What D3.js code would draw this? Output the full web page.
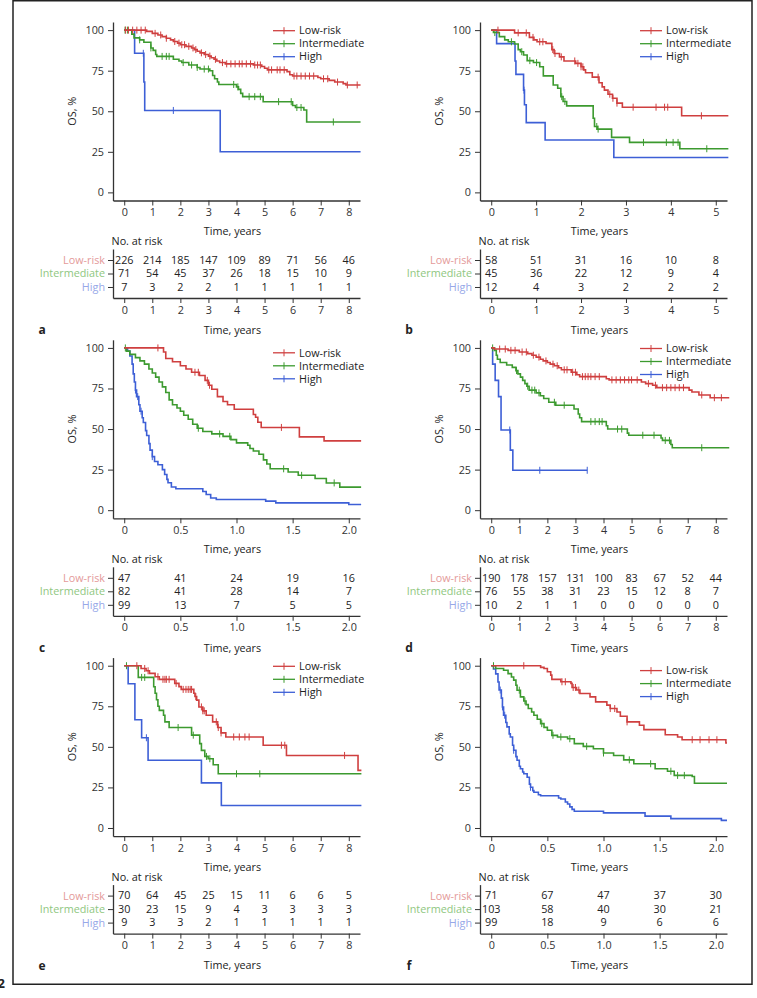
<!DOCTYPE html>
<html><head><meta charset="utf-8">
<script src="https://cdn.jsdelivr.net/npm/d3@7"></script>
<style>
body{margin:0;background:#fff;}
svg text{font-family:"Open Sans",sans-serif;}
</style></head><body>
<svg id="chart" width="757" height="998"></svg>
<script>
// ---------------- DATA ----------------
const groups = ["Low-risk", "Intermediate", "High"];
const yTicks = [0, 25, 50, 75, 100];
const ticks8 = [0, 1, 2, 3, 4, 5, 6, 7, 8];
const ticks8Labels = ["0", "1", "2", "3", "4", "5", "6", "7", "8"];
const ticks5 = [0, 1, 2, 3, 4, 5];
const ticks5Labels = ["0", "1", "2", "3", "4", "5"];
const ticks2 = [0, 0.5, 1, 1.5, 2];
const ticks2Labels = ["0", "0.5", "1.0", "1.5", "2.0"];

// Panel a
const aLowSteps = [[0,100],[0.8,99.2],[1.0,98],[1.2,97],[1.35,96],[1.5,95],[1.65,94],[1.75,93],[1.9,92],[2.0,91],[2.2,90],[2.4,89],[2.5,88],[2.6,87],[2.7,86],[2.85,85],[3.0,84],[3.1,83],[3.2,82],[3.3,81],[3.4,80],[3.6,79.2],[4.6,78.5],[4.9,77.6],[5.0,76.5],[5.1,75.5],[5.8,74.4],[5.9,72.5],[6.0,71.7],[6.9,70.8],[7.0,70],[7.3,69],[7.5,68],[7.8,67],[7.9,66.2]];
const aLowCens = [0.05,0.15,0.3,0.45,0.6,0.75,1.1,1.3,1.5,1.8,1.95,2.05,2.15,2.3,2.45,2.55,2.75,2.9,3.05,3.25,3.5,3.65,3.8,3.95,4.1,4.2,4.35,4.5,4.65,4.75,4.85,5.15,5.25,5.45,5.55,5.7,6.05,6.15,6.3,6.45,6.6,6.75,7.1,7.25,7.6,7.95,8.3];
const aIntSteps = [[0,100],[0.27,97.5],[0.35,95.2],[0.55,94],[0.7,92.5],[0.95,89],[1.03,87.5],[1.12,85],[1.16,83.8],[1.75,82],[1.95,81],[2.05,80],[2.3,78.5],[2.6,77],[2.7,76],[3.05,75],[3.15,72],[3.22,70],[3.32,68],[3.37,66.5],[4.0,65],[4.07,63.5],[4.15,61],[4.22,59],[4.95,55.9],[6.0,53.5],[6.1,52.3],[6.4,50.8],[6.5,43.4]];
const aIntCens = [0.03,0.12,0.55,0.95,1.35,1.5,1.6,2.1,2.4,2.6,2.85,3.0,3.9,4.05,4.45,4.65,4.85,5.5,5.95,6.15,6.3,7.45];
const aHighSteps = [[0,100],[0.37,85.7],[0.7,68],[0.73,50.5],[3.42,25]];
const aHighCens = [0.68, 1.75];
const aEnds = [8.42, 8.42, 8.42];
const aRiskLow = [226,214,185,147,109,89,71,56,46];
const aRiskInt = [71,54,45,37,26,18,15,10,9];
const aRiskHigh = [7,3,2,2,1,1,1,1,1];

// Panel b
const bLowSteps = [[0,100],[0.52,98.3],[0.85,95.5],[0.95,94],[1.02,92.8],[1.22,91.8],[1.35,88],[1.4,85.6],[1.52,83.5],[1.62,81],[1.88,79.5],[2.0,77.4],[2.06,75.5],[2.1,73.7],[2.25,71],[2.4,67.6],[2.47,65],[2.52,63],[2.6,60.5],[2.7,58],[2.8,55],[2.92,52.5],[4.24,47.2]];
const bLowCens = [0.15,0.6,0.78,0.93,1.08,1.15,1.37,1.42,1.56,1.86,1.93,2.0,2.04,2.38,2.64,2.71,2.8,3.16,3.67,3.86,3.93,4.68];
const bIntSteps = [[0,100],[0.05,98.5],[0.18,96],[0.3,94],[0.38,92.8],[0.52,91.4],[0.6,88],[0.65,86.7],[0.72,84.7],[0.8,81.2],[0.94,80],[1.08,77.4],[1.16,71.8],[1.38,66.2],[1.48,64.2],[1.55,59],[1.6,56],[1.68,53.3],[2.27,45.7],[2.3,40.6],[2.36,39],[2.68,33.9],[3.08,30.8],[4.2,26.9]];
const bIntCens = [0.08,0.45,0.68,0.86,1.01,1.57,1.64,2.35,2.38,3.39,3.9,4.05,4.16,4.8];
const bHighSteps = [[0,100],[0.12,91.7],[0.53,81],[0.55,72.7],[0.72,63],[0.74,54],[0.78,43],[1.2,32.3],[2.73,21.5]];
const bHighCens = [0.73];
const bEnds = [5.28, 5.28, 5.28];
const bRiskLow = [58,51,31,16,10,8];
const bRiskInt = [45,36,22,12,9,4];
const bRiskHigh = [12,4,3,2,2,2];

// Panel c
const cLowSteps = [[0,100],[0.35,97.5],[0.37,93.5],[0.43,91.5],[0.5,89],[0.55,87],[0.6,85],[0.67,83],[0.72,80],[0.75,77],[0.78,74.5],[0.83,70],[0.88,67],[0.92,65],[0.98,62.2],[1.15,59],[1.17,57.3],[1.19,54.2],[1.22,51],[1.56,45.2],[1.78,42.7]];
const cLowCens = [0.3,0.63,0.66,0.74,0.76,1.4];
const cIntSteps = [[0,100],[0.02,98],[0.05,96],[0.1,94],[0.14,92],[0.18,90],[0.22,87],[0.25,84.5],[0.28,82],[0.31,79],[0.34,76],[0.37,72.5],[0.4,68],[0.43,65],[0.47,63],[0.5,61],[0.53,58.5],[0.57,56],[0.61,53],[0.65,50.5],[0.7,48.5],[0.78,47],[0.88,45.5],[0.95,43.5],[1.0,41.5],[1.1,40],[1.12,38],[1.15,36.5],[1.2,34.5],[1.24,31],[1.27,28.5],[1.3,25.5],[1.46,23.5],[1.55,21.5],[1.7,19.5],[1.8,16.8],[1.92,14.2]];
const cIntCens = [0.01,0.66,0.85,0.94,1.42,1.58,1.87];
const cHighSteps = [[0,100],[0.03,98],[0.05,95],[0.07,90],[0.08,84],[0.09,79],[0.1,74],[0.11,70],[0.13,65],[0.14,61],[0.16,57],[0.17,54],[0.19,49],[0.2,46],[0.22,41],[0.23,37],[0.25,33],[0.27,30],[0.3,28],[0.34,25],[0.36,22],[0.38,19],[0.39,16.9],[0.42,14.3],[0.46,13.2],[0.7,11.5],[0.73,9.7],[0.77,7.5],[0.82,6.6],[1.26,5.6],[1.35,4.5],[2.0,3.5]];
const cHighCens = [0.1,0.12,0.15,0.25];
const cEnds = [2.11, 2.11, 2.11];
const cRiskLow = [47,41,24,19,16];
const cRiskInt = [82,41,28,14,7];
const cRiskHigh = [99,13,7,5,5];

// Panel d
const dLowSteps = [[0,100],[0.1,99.3],[0.6,98.5],[1.0,97.5],[1.3,96.5],[1.45,95.5],[1.6,94.3],[1.75,93],[1.85,92],[2.0,91],[2.1,90],[2.25,89],[2.4,87.8],[2.5,86.5],[2.85,85],[3.05,83.5],[3.15,82.3],[4.1,81],[4.2,80.3],[5.35,79],[5.5,78],[5.75,77],[5.9,75.5],[7.05,74],[7.15,72.8],[7.4,71],[7.8,69.3]];
const dLowCens = [0.3,0.5,0.7,0.85,1.1,1.25,1.5,1.7,1.95,2.2,2.35,2.6,2.7,2.9,3.0,3.25,3.35,3.45,3.55,3.7,3.85,4.3,4.45,4.6,4.75,4.9,5.0,5.2,5.6,5.85,6.1,6.25,6.4,6.55,6.7,6.85,7.5,7.95,8.2];
const dIntSteps = [[0,100],[0.12,98.5],[0.18,95.5],[0.22,93],[0.32,91],[0.55,89.5],[0.75,88],[0.88,86],[0.95,84],[1.04,82],[1.12,80],[1.2,78],[1.27,76.4],[1.35,74],[1.6,72.3],[1.75,70.5],[1.87,68.8],[2.05,66.5],[2.3,64.7],[2.95,62.4],[3.1,59.3],[3.15,57],[3.22,54.6],[4.1,52],[4.15,50],[4.85,47.5],[4.9,46.2],[6.05,44.5],[6.1,43],[6.4,40.5],[6.45,38.5]];
const dIntCens = [0.05,0.9,1.3,1.45,1.55,1.7,2.25,2.6,3.55,3.7,3.85,3.95,4.5,4.65,5.4,5.8,6.2,6.35,7.5];
const dHighSteps = [[0,100],[0.05,90],[0.14,80],[0.26,70],[0.35,49.4],[0.68,37],[0.77,24.6]];
const dHighCens = [0.66, 1.73, 3.42];
const dEnds = [8.48, 8.48, 3.42];
const dRiskLow = [190,178,157,131,100,83,67,52,44];
const dRiskInt = [76,55,38,31,23,15,12,8,7];
const dRiskHigh = [10,2,1,1,0,0,0,0,0];

// Panel e
const eLowSteps = [[0,100],[0.6,98.3],[0.78,96.9],[0.9,95.3],[1.1,93.2],[1.25,91.6],[1.8,89.1],[1.95,87.1],[2.03,85.4],[2.48,83],[2.52,81],[2.58,78.8],[2.66,74.6],[2.8,72.2],[2.92,69.5],[3.15,65.4],[3.33,61.9],[3.45,58.6],[3.62,56.1],[4.95,51],[5.78,44.7],[8.33,35.5]];
const eLowCens = [0.45,0.73,0.85,1.2,1.38,1.45,1.5,1.6,1.85,2.1,2.2,2.28,2.35,2.4,2.55,2.75,2.8,2.85,3.28,3.35,3.45,3.9,4.1,4.3,4.45,5.6,5.72,7.85];
const eIntSteps = [[0,100],[0.5,92.8],[1.05,87],[1.1,83],[1.15,79],[1.2,75],[1.25,72.5],[1.4,69.5],[1.45,65.4],[1.6,61.9],[2.4,57.2],[2.69,52],[2.75,47.8],[2.87,44.1],[2.99,42.7],[3.17,39],[3.35,33.4]];
const eIntCens = [0.08,0.62,0.73,1.92,2.46,2.93,3.05,4.0,4.83];
const eHighSteps = [[0,100],[0.14,88.9],[0.38,66.7],[0.62,55.6],[0.85,41.7],[2.75,27.8],[3.46,13.9]];
const eHighCens = [0.79];
const eEnds = [8.45, 8.45, 8.45];
const eRiskLow = [70,64,45,25,15,11,6,6,5];
const eRiskInt = [30,23,15,9,4,3,3,3,3];
const eRiskHigh = [9,3,3,2,1,1,1,1,1];

// Panel f
const fLowSteps = [[0,100],[0.44,99],[0.47,98.3],[0.5,96.3],[0.53,94.2],[0.54,91.6],[0.62,90.1],[0.71,89.1],[0.72,86.6],[0.76,85],[0.79,82.9],[0.88,80.8],[0.93,77.7],[1.03,75.7],[1.06,73.6],[1.12,71.5],[1.15,68.9],[1.21,65.4],[1.32,63.3],[1.36,60.6],[1.55,57.5],[1.66,56.1],[1.7,54.4],[2.09,52.4]];
const fLowCens = [0.29,0.63,0.66,0.73,0.75,0.78,1.06,1.1,1.21,1.79,1.86,1.94,2.01];
const fIntSteps = [[0,100],[0.04,98.3],[0.11,97.2],[0.15,95.1],[0.18,93],[0.2,91.1],[0.22,88],[0.23,84.9],[0.26,80.8],[0.29,78.3],[0.31,76],[0.33,73.6],[0.36,71.5],[0.38,69.5],[0.41,67],[0.44,64.3],[0.47,62],[0.5,60.2],[0.54,57.1],[0.59,56.1],[0.68,55],[0.74,52],[0.82,50.3],[0.91,48.8],[1.0,46.2],[1.09,44.7],[1.18,42],[1.27,39.6],[1.46,36.5],[1.57,35],[1.63,32.4],[1.79,31.7],[1.81,27.6]];
const fIntCens = [0.02,0.25,0.3,0.45,0.55,0.62,0.7,0.85,1.0,1.23,1.42,1.6,1.66,1.72];
const fHighSteps = [[0,100],[0.02,98],[0.04,95],[0.06,90],[0.07,85],[0.09,80],[0.1,74.6],[0.11,69.5],[0.13,65],[0.14,62.3],[0.16,58],[0.17,56.1],[0.19,51],[0.2,47.9],[0.22,44],[0.23,41.7],[0.25,38],[0.26,36.5],[0.28,34.5],[0.29,33.4],[0.32,31.3],[0.34,27],[0.35,25.1],[0.37,23],[0.38,22],[0.42,20.5],[0.44,19.9],[0.6,18.5],[0.62,17.9],[0.66,16],[0.68,14.8],[0.7,13],[0.72,11.5],[0.74,10.3],[1.0,9.3],[1.37,7.3],[1.6,5.8],[2.05,4.7]];
const fHighCens = [0.08,0.1,0.12,0.2,0.35];
const fEnds = [2.1, 2.1, 2.1];
const fRiskLow = [71,67,47,37,30];
const fRiskInt = [103,58,40,30,21];
const fRiskHigh = [99,18,9,6,6];

// ---------------- STYLE / LAYOUT ----------------
const lineColors = ["#cf3f3f", "#3c9a2f", "#3d5fd6"];
const labelColors = ["#e49a9a", "#8fc77f", "#97a8e8"];
const textColor = "#222";
const FS = 10.8;
const colRanges = [[113, 360], [480, 727]];
const rowStep = 317.8;

const panels = [
  {id:"a", col:0, row:0, xd:[-0.4,8.4], ticks:ticks8, tl:ticks8Labels, steps:[aLowSteps,aIntSteps,aHighSteps], cens:[aLowCens,aIntCens,aHighCens], ends:aEnds, risk:[aRiskLow,aRiskInt,aRiskHigh], ldy:0},
  {id:"b", col:1, row:0, xd:[-0.25,5.25], ticks:ticks5, tl:ticks5Labels, steps:[bLowSteps,bIntSteps,bHighSteps], cens:[bLowCens,bIntCens,bHighCens], ends:bEnds, risk:[bRiskLow,bRiskInt,bRiskHigh], ldy:0},
  {id:"c", col:0, row:1, xd:[-0.1,2.1], ticks:ticks2, tl:ticks2Labels, steps:[cLowSteps,cIntSteps,cHighSteps], cens:[cLowCens,cIntCens,cHighCens], ends:cEnds, risk:[cRiskLow,cRiskInt,cRiskHigh], ldy:4.3},
  {id:"d", col:1, row:1, xd:[-0.4,8.4], ticks:ticks8, tl:ticks8Labels, steps:[dLowSteps,dIntSteps,dHighSteps], cens:[dLowCens,dIntCens,dHighCens], ends:dEnds, risk:[dRiskLow,dRiskInt,dRiskHigh], ldy:0},
  {id:"e", col:0, row:2, xd:[-0.4,8.4], ticks:ticks8, tl:ticks8Labels, steps:[eLowSteps,eIntSteps,eHighSteps], cens:[eLowCens,eIntCens,eHighCens], ends:eEnds, risk:[eRiskLow,eRiskInt,eRiskHigh], ldy:0},
  {id:"f", col:1, row:2, xd:[-0.1,2.1], ticks:ticks2, tl:ticks2Labels, steps:[fLowSteps,fIntSteps,fHighSteps], cens:[fLowCens,fIntCens,fHighCens], ends:fEnds, risk:[fRiskLow,fRiskInt,fRiskHigh], ldy:4.3}
];

const svg = d3.select("#chart");

// frame
svg.append("path").attr("d", "M13,0.75H752V984.3H13Z").attr("fill","none").attr("stroke","#222").attr("stroke-width",1.5);
svg.append("text").attr("x",5).attr("y",988).attr("text-anchor","end")
  .attr("font-size",13).attr("font-weight","bold").style("fill",textColor).text("2");

function survAt(steps, t) {
  let s = steps[0][1];
  for (const p of steps) { if (p[0] <= t) s = p[1]; else break; }
  return s;
}

function styleAxis(g) {
  g.selectAll("path.domain").attr("stroke","#333").attr("stroke-width",1.3);
  g.selectAll(".tick line").attr("stroke","#333").attr("stroke-width",1);
  g.selectAll(".tick text").attr("font-size",FS).style("font-family","'Open Sans',sans-serif").style("fill","#333");
}

function label(g, xx, yy, txt, anchor, size, weight) {
  return g.append("text").attr("x",xx).attr("y",yy).attr("dy","0.35em")
    .attr("text-anchor",anchor).attr("font-size",size).attr("font-weight",weight || "normal")
    .style("fill",textColor).text(txt);
}

panels.forEach(p => {
  const dy = p.row * rowStep;
  const xr = colRanges[p.col];
  const x = d3.scaleLinear().domain(p.xd).range(xr);
  const y = d3.scaleLinear().domain([-5,105]).range([200.5 + dy, 22 + dy]);
  const g = svg.append("g");
  const axisY = 200.5 + dy;

  // axes
  const gx = g.append("g").attr("transform",`translate(0,${axisY})`)
    .call(d3.axisBottom(x).tickValues(p.ticks).tickFormat((d,i)=>p.tl[i]).tickSize(5).tickPadding(3).tickSizeOuter(0));
  styleAxis(gx);
  const gy = g.append("g").attr("transform",`translate(${xr[0]},0)`)
    .call(d3.axisLeft(y).tickValues(yTicks).tickSize(5).tickPadding(4).tickSizeOuter(0));
  styleAxis(gy);

  // axis titles
  label(g, (xr[0]+xr[1])/2 - 4, axisY + 31, "Time, years", "middle", FS);
  g.append("text").attr("transform",`translate(${xr[0]-41},${(y(-5)+y(105))/2}) rotate(-90)`)
    .attr("dy","0.35em").attr("text-anchor","middle").attr("font-size",FS).style("fill",textColor).text("OS, %");

  // curves
  const line = d3.line().x(d=>x(d[0])).y(d=>y(d[1])).curve(d3.curveStepAfter);
  [2,1,0].forEach(k => {
    const st = p.steps[k];
    const pts = st.concat([[p.ends[k], st[st.length-1][1]]]);
    g.append("path").attr("d", line(pts)).attr("fill","none")
      .attr("stroke", lineColors[k]).attr("stroke-width",1.6);
    g.append("g").selectAll("line").data(p.cens[k]).join("line")
      .attr("x1", d=>x(d)).attr("x2", d=>x(d))
      .attr("y1", d=>y(survAt(st,d)) - 3.5).attr("y2", d=>y(survAt(st,d)) + 3.5)
      .attr("stroke", lineColors[k]).attr("stroke-width",1);
  });

  // legend
  const lx = xr[1] - 87;
  groups.forEach((name,k) => {
    const ly = 30 + dy + 0.7 + p.ldy + k*13;
    g.append("line").attr("x1",lx).attr("x2",lx+22).attr("y1",ly).attr("y2",ly)
      .attr("stroke",lineColors[k]).attr("stroke-width",1.3);
    g.append("line").attr("x1",lx+11).attr("x2",lx+11).attr("y1",ly-3.5).attr("y2",ly+3.5)
      .attr("stroke",lineColors[k]).attr("stroke-width",1);
    label(g, lx+26, ly, name, "start", FS);
  });

  // risk table
  label(g, xr[0]-1.5, axisY + 41.2, "No. at risk", "start", FS);
  const ry = d3.scalePoint().domain(groups).range([axisY + 48.5, axisY + 97.5]).padding(0.815);
  const gr = g.append("g").attr("transform",`translate(${xr[0]},0)`)
    .call(d3.axisLeft(ry).tickSize(5).tickPadding(3).tickSizeOuter(0));
  styleAxis(gr);
  gr.selectAll(".tick text").style("fill",(d,i)=>labelColors[i]);
  const gb = g.append("g").attr("transform",`translate(0,${axisY + 97.5})`)
    .call(d3.axisBottom(x).tickValues(p.ticks).tickFormat((d,i)=>p.tl[i]).tickSize(5).tickPadding(3).tickSizeOuter(0));
  styleAxis(gb);
  groups.forEach((name,k) => {
    g.append("g").selectAll("text").data(p.risk[k]).join("text")
      .attr("x",(d,i)=>x(p.ticks[i])).attr("y",ry(name)).attr("dy","0.35em")
      .attr("text-anchor","middle").attr("font-size",FS).style("fill",textColor).text(d=>d);
  });
  label(g, (xr[0]+xr[1])/2 - 4, axisY + 129.5, "Time, years", "middle", FS);

  // panel label
  label(g, xr[0] - 71, axisY + 129.5, p.id, "middle", 12, "bold");
});
</script>
</body></html>
